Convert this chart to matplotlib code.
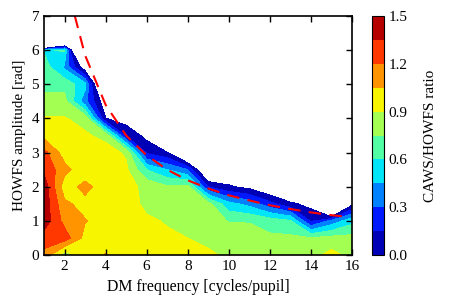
import matplotlib

matplotlib.use("Agg")
import matplotlib.pyplot as plt
import numpy as np

# DM frequency grid [cycles/pupil] and HOWFS amplitude grid [rad]
dm_freq = [1, 2, 3, 4, 5, 6, 7, 8, 9, 10, 11, 12, 13, 14, 15, 16]
amplitude = [0.0, 0.5, 1.0, 1.5, 2.0, 2.5, 3.0, 3.5, 4.0, 4.5, 5.0, 5.5, 6.0, 6.5, 7.0]

# CAWS/HOWFS ratio, one list per DM frequency (amplitude 0 -> 7)
# negative = CAWS failed (left blank)
ratio_f1 = [1.15, 1.28, 1.44, 1.45, 1.44, 1.32, 1.25, 1.00, 0.91, 0.80, 0.70, 0.68, 0.58, -5.0, -5.0]
ratio_f2 = [0.82, 1.28, 1.15, 1.08, 0.97, 1.10, 0.98, 0.95, 0.91, 0.80, 0.70, 0.42, 0.62, -1.9, -1.9]
ratio_f3 = [0.93, 1.00, 1.06, 1.00, 1.10, 0.95, 0.95, 0.92, 0.85, 0.35, 0.50, -0.125, -1.2, -1.2, -1.2]
ratio_f4 = [1.06, 0.98, 0.99, 0.98, 0.96, 0.97, 0.96, 0.86, 0.005, -0.117, -0.61, -1.0, -1.0, -1.0, -1.0]
ratio_f5 = [0.98, 0.97, 0.97, 0.96, 0.95, 0.93, 0.88, 0.12, -0.08, -1.0, -1.0, -1.0, -1.0, -1.0, -1.0]
ratio_f6 = [0.95, 0.93, 0.92, 0.87, 0.86, 0.60, 0.12, -0.05, -1.0, -1.0, -1.0, -1.0, -1.0, -1.0, -1.0]
ratio_f7 = [0.94, 0.92, 0.89, 0.86, 0.77, 0.45, 0.02, -1.0, -1.0, -1.0, -1.0, -1.0, -1.0, -1.0, -1.0]
ratio_f8 = [0.93, 0.90, 0.86, 0.84, 0.80, 0.30, -0.45, -1.0, -1.0, -1.0, -1.0, -1.0, -1.0, -1.0, -1.0]
ratio_f9 = [0.92, 0.87, 0.84, 0.80, 0.15, -0.35, -1.0, -1.0, -1.0, -1.0, -1.0, -1.0, -1.0, -1.0, -1.0]
ratio_f10 = [0.88, 0.85, 0.74, 0.50, 0.02, -0.16, -1.0, -1.0, -1.0, -1.0, -1.0, -1.0, -1.0, -1.0, -1.0]
ratio_f11 = [0.85, 0.82, 0.74, 0.40, -0.05, -1.0, -1.0, -1.0, -1.0, -1.0, -1.0, -1.0, -1.0, -1.0, -1.0]
ratio_f12 = [0.83, 0.78, 0.68, 0.20, -0.185, -1.0, -1.0, -1.0, -1.0, -1.0, -1.0, -1.0, -1.0, -1.0, -1.0]
ratio_f13 = [0.82, 0.78, 0.62, 0.03, -0.27, -1.0, -1.0, -1.0, -1.0, -1.0, -1.0, -1.0, -1.0, -1.0, -1.0]
ratio_f14 = [0.85, 0.76, 0.12, -0.05, -1.0, -1.0, -1.0, -1.0, -1.0, -1.0, -1.0, -1.0, -1.0, -1.0, -1.0]
ratio_f15 = [0.95, 0.80, 0.35, -1.1, -1.0, -1.0, -1.0, -1.0, -1.0, -1.0, -1.0, -1.0, -1.0, -1.0, -1.0]
ratio_f16 = [0.85, 0.80, 0.55, -0.05, -1.0, -1.0, -1.0, -1.0, -1.0, -1.0, -1.0, -1.0, -1.0, -1.0, -1.0]

# dashed limit curve
limit_freq = [2.5, 3, 4, 5, 6, 7, 8, 9, 10, 11, 12, 13, 14, 15, 15.8]
limit_amp = [7.0, 5.85, 4.4, 3.5, 2.92, 2.5, 2.19, 1.95, 1.75, 1.6, 1.46, 1.35, 1.25, 1.17, 1.12]

cbar_ticks = [0.0, 0.3, 0.6, 0.9, 1.2, 1.5]

plt.rcParams["font.family"] = ["Liberation Serif", "DejaVu Serif"]
plt.rcParams["font.size"] = 11

ratio = np.array(
    [
        ratio_f1, ratio_f2, ratio_f3, ratio_f4, ratio_f5, ratio_f6, ratio_f7, ratio_f8,
        ratio_f9, ratio_f10, ratio_f11, ratio_f12, ratio_f13, ratio_f14, ratio_f15, ratio_f16,
    ]
).T

fig = plt.figure(figsize=(4.56, 3.07), dpi=100)
ax = fig.add_axes([0.0965, 0.169, 0.6755, 0.779])
cax = fig.add_axes([0.816, 0.169, 0.026, 0.779])

levels = np.linspace(0, 1.5, 11)
cs = ax.contourf(dm_freq, amplitude, ratio, levels=levels, cmap="jet")
ax.plot(limit_freq, limit_amp, "r--", linewidth=1.5, dashes=(6, 4))

ax.set_xlim(1, 16)
ax.set_ylim(0, 7)
ax.set_xticks([2, 4, 6, 8, 10, 12, 14, 16])
ax.set_yticks(range(8))
ax.tick_params(direction="in", top=True, right=True, length=4, width=1, labelsize=11)
for spine in ax.spines.values():
    spine.set_linewidth(1.2)
ax.set_xlabel("DM frequency [cycles/pupil]", fontsize=11.3)
ax.set_ylabel("HOWFS amplitude [rad]", fontsize=11)

cbar = fig.colorbar(cs, cax=cax, ticks=cbar_ticks)
cbar.ax.set_yticklabels([f"{t:.1f}" for t in cbar_ticks])
cbar.ax.tick_params(length=0, labelsize=11)
cbar.set_label("CAWS/HOWFS ratio", fontsize=11, labelpad=12)

fig.savefig("out.png", dpi=100)
